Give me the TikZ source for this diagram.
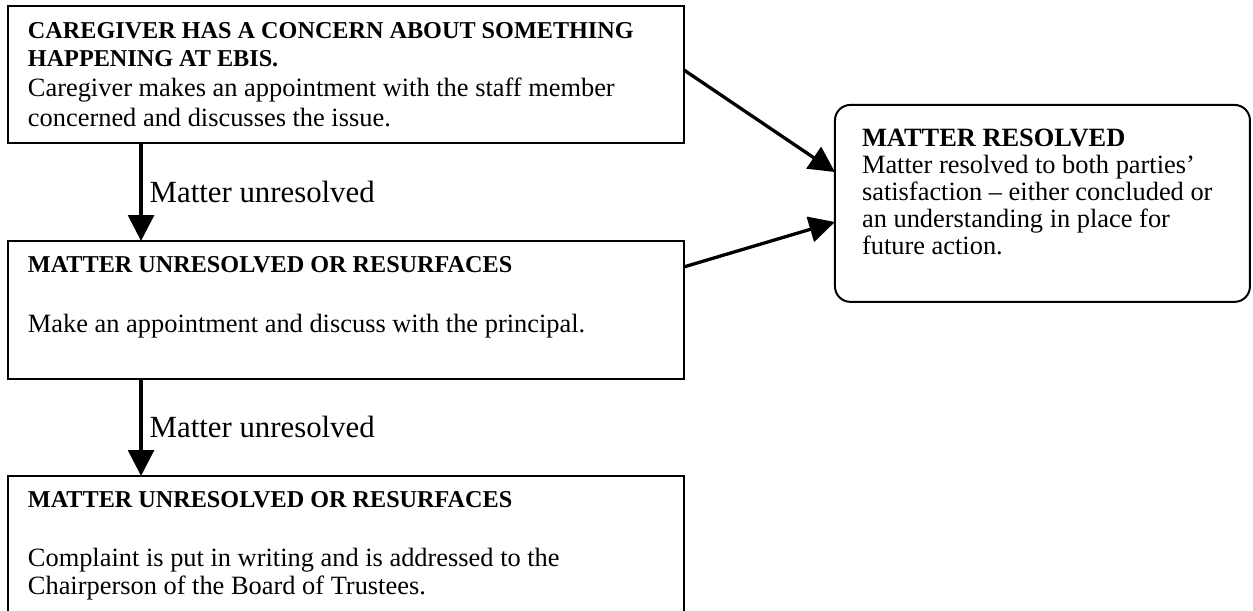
\documentclass[tikz,border=0pt]{standalone}
\usepackage{fontspec}
\setmainfont{Liberation Serif}
\usetikzlibrary{positioning, arrows.meta}
\newcommand{\headfont}{\fontsize{11}{12.65}\selectfont\bfseries}
\newcommand{\bodyfont}[1][13.8]{\fontsize{12}{#1}\selectfont}
\newcommand{\topgap}[1]{\rule{0pt}{#1}}

\begin{document}
\begin{tikzpicture}[
	stepbox/.style={draw, line width=0.9pt, inner xsep=9.1pt, inner ysep=0pt, outer sep=0pt},
	endbox/.style={stepbox, rounded corners=7pt, inner xsep=12.3pt},
	flow/.style={line width=1.5pt, -{Triangle[length=11.7pt, width=11.7pt]}},
	note/.style={midway, right, inner xsep=3.2pt, font=\fontsize{14}{16}\selectfont}
	]
	\useasboundingbox (0,0) rectangle (569.5pt,-277.3pt);
	\clip (0,0) rectangle (569.5pt,-277.3pt);
	
	\node[stepbox, anchor=north west] (concern) at (3.6pt,-2.7pt) {\parbox[t][62.3pt][t]{289.1pt}{%
		{\headfont\topgap{14.7pt}CAREGIVER HAS A CONCERN ABOUT SOMETHING\\HAPPENING AT EBIS.\par}
		{\bodyfont Caregiver makes an appointment with the staff member\\concerned and discusses the issue.\par}}};
	\node[stepbox, below=44.5pt of concern] (principal) {\parbox[t][62.7pt][t]{289.1pt}{%
		{\headfont\topgap{14.5pt}MATTER UNRESOLVED OR RESURFACES\par}
		\vspace{13.5pt}
		{\bodyfont Make an appointment and discuss with the principal.\par}}};
	\node[stepbox, below=44.1pt of principal] (board) {\parbox[t][80pt][t]{289.1pt}{%
		{\headfont\topgap{14.5pt}MATTER UNRESOLVED OR RESURFACES\par}
		\vspace{14.4pt}
		{\bodyfont[12.5] Complaint is put in writing and is addressed to the\\Chairperson of the Board of Trustees.\par}}};
	\node[endbox, below right=45pt and 68.6pt of concern.north east] (resolved) {\parbox[t][89.5pt][t]{164pt}{%
		\bodyfont[12.3]\topgap{19pt}\textbf{MATTER RESOLVED}\\
		Matter resolved to both parties’\\satisfaction -- either concluded or\\an understanding in place for\\future action.}};
	
	\draw[flow] ([xshift=60.5pt]concern.south west) -- node[note] {Matter unresolved} ([xshift=60.5pt]principal.north west);
	\draw[flow] ([xshift=60.5pt]principal.south west) -- node[note] {Matter unresolved} ([xshift=60.5pt]board.north west);
	\draw[flow] ([yshift=2pt]concern.east) -- ([yshift=-30.5pt]resolved.north west);
	\draw[flow] ([yshift=-11.8pt]principal.north east) -- ([yshift=-53.2pt]resolved.north west);
\end{tikzpicture}
\end{document}
